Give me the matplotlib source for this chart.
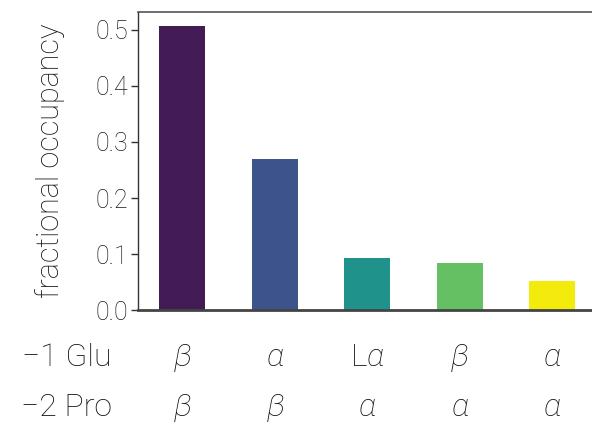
import matplotlib
matplotlib.use("Agg")
import matplotlib.pyplot as plt
import matplotlib.transforms as mtransforms

# occupancy per backbone conformation pair
occupancy = [0.507, 0.270, 0.093, 0.084, 0.052]
bar_colors = ["#431c55", "#3d548a", "#20928c", "#65bf63", "#f3eb0c"]
glu_labels = [r"$\beta$", r"$\alpha$", r"$\mathrm{L}\alpha$", r"$\beta$", r"$\alpha$"]
pro_labels = [r"$\beta$", r"$\beta$", r"$\alpha$", r"$\alpha$", r"$\alpha$"]
row_names = ["\u22121 Glu", "\u22122 Pro"]
yticks = [0.0, 0.1, 0.2, 0.3, 0.4, 0.5]

plt.rcParams["font.family"] = ["Roboto", "DejaVu Sans"]
plt.rcParams["font.weight"] = "light"
plt.rcParams["mathtext.fontset"] = "custom"
plt.rcParams["mathtext.rm"] = "Roboto:light"
plt.rcParams["mathtext.it"] = "Roboto:italic:light"

fig = plt.figure(figsize=(5.92, 4.30), dpi=100)
ax = fig.add_axes([0.233, 0.279, 0.767, 0.693])

x = list(range(len(occupancy)))
ax.bar(x, occupancy, width=0.5, color=bar_colors)

ax.set_xlim(-0.48, 4.43)
ax.set_ylim(0, 0.532)
ax.set_yticks(yticks)
ax.set_yticklabels([f"{v:.1f}" for v in yticks])
ax.set_xticks([])
ax.tick_params(axis="y", labelsize=18, length=5, width=1, color="#333333",
               labelcolor="#1a1a1a", pad=2)
ax.set_ylabel("fractional occupancy", fontsize=22, color="#111111",
              fontweight="light")
ax.yaxis.set_label_coords(-0.16, 0.5)

ax.spines["right"].set_visible(False)
ax.spines["left"].set_linewidth(1.0)
ax.spines["left"].set_color("#333333")
ax.spines["top"].set_linewidth(1.2)
ax.spines["top"].set_color("#555555")
ax.spines["bottom"].set_linewidth(2.0)
ax.spines["bottom"].set_color("#444444")

# conformation labels under each bar
trans = mtransforms.blended_transform_factory(ax.transData, fig.transFigure)
for row_y, name, labels in [(1 - 358 / 430, row_names[0], glu_labels),
                            (1 - 408 / 430, row_names[1], pro_labels)]:
    fig.text(112 / 592, row_y, name, ha="right", va="center", fontsize=23,
             color="#111111")
    for xi, lab in zip(x, labels):
        ax.text(xi, row_y, lab, transform=trans, ha="center", va="center",
                fontsize=23, color="#111111")

fig.savefig("out.png", dpi=100)
